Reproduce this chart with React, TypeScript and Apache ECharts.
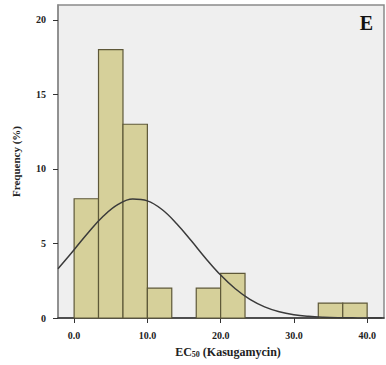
import React, { useEffect, useRef } from "react";
import * as echarts from "echarts";

// Histogram bins: [start, end] of EC50 and frequency (%)
const binStarts = [0, 3.33, 6.67, 10, 13.33, 16.67, 20, 23.33, 26.67, 30, 33.33, 36.67];
const binEnds = [3.33, 6.67, 10, 13.33, 16.67, 20, 23.33, 26.67, 30, 33.33, 36.67, 40];
const binFreq = [8, 18, 13, 2, 0, 2, 3, 0, 0, 0, 1, 1];

// Fitted normal curve
const curveX = [-2.2, 0, 2, 4, 6, 8, 10, 12, 14, 16, 18, 20, 22, 24, 26, 28, 30, 32, 34, 36, 38, 40, 42];
const curveY = [3.3, 4.58, 5.77, 6.84, 7.62, 7.98, 7.86, 7.28, 6.33, 5.18, 3.98, 2.88, 1.96, 1.25, 0.75, 0.42, 0.22, 0.11, 0.05, 0.02, 0.01, 0.0, 0.0];

const xTicks = [0, 10, 20, 30, 40];
const yTicks = [0, 5, 10, 15, 20];

const FONT = "'Liberation Serif', 'DejaVu Serif', serif";

export default function App() {
  const ref = useRef<HTMLDivElement>(null);
  useEffect(() => {
    if (!ref.current) return;
    const chart = echarts.init(ref.current, undefined, { renderer: "svg" });
    const histData = binStarts.map((s, i) => [s, binEnds[i], binFreq[i]]);
    chart.setOption({
      animation: false,
      backgroundColor: "#ffffff",
      grid: {
        left: 58,
        right: 2,
        top: 5,
        bottom: 47,
        show: true,
        backgroundColor: "#efefef",
        borderColor: "#8a8a8a",
        borderWidth: 1.5,
      },
      xAxis: {
        type: "value",
        min: -2.2,
        max: 42.3,
        splitLine: { show: false },
        axisLine: { show: true, onZero: false, lineStyle: { color: "#333", width: 1.5 } },
        axisTick: { show: true, customValues: xTicks, length: 5, lineStyle: { color: "#333" } },
        axisLabel: {
          customValues: xTicks,
          formatter: (v: number) => v.toFixed(1),
          margin: 12,
          fontFamily: FONT,
          fontWeight: "bold",
          fontSize: 10,
          color: "#222",
        },
        name: "{a|EC}{b|50}{a| (Kasugamycin)}",
        nameLocation: "middle",
        nameGap: 27,
        nameTextStyle: {
          padding: [0, 0, 0, 14],
          rich: {
            a: { fontFamily: FONT, fontWeight: "bold", fontSize: 12, color: "#222" },
            b: { fontFamily: FONT, fontWeight: "bold", fontSize: 8, color: "#222", verticalAlign: "bottom", padding: [5, 0, 0, 0] },
          },
        },
      },
      yAxis: {
        type: "value",
        min: 0,
        max: 21,
        splitLine: { show: false },
        axisLine: { show: true, onZero: false, lineStyle: { color: "#8a8a8a", width: 1.5 } },
        axisTick: { show: true, customValues: yTicks, length: 5, lineStyle: { color: "#333" } },
        axisLabel: {
          customValues: yTicks,
          margin: 12,
          fontFamily: FONT,
          fontWeight: "bold",
          fontSize: 10,
          color: "#222",
        },
        name: "Frequency (%)",
        nameLocation: "middle",
        nameGap: 37,
        nameTextStyle: { fontFamily: FONT, fontWeight: "bold", fontSize: 11, color: "#222" },
      },
      graphic: [
        {
          type: "text",
          right: 13,
          top: 13,
          style: { text: "E", font: `bold 20px ${FONT}`, fill: "#111" },
        },
      ],
      series: [
        {
          type: "custom",
          data: histData,
          encode: { x: [0, 1], y: 2 },
          renderItem: (params: any, api: any) => {
            const v = api.value(2);
            if (!v) return null;
            const p0 = api.coord([api.value(0), 0]);
            const p1 = api.coord([api.value(1), v]);
            return {
              type: "rect",
              shape: { x: p0[0], y: p1[1], width: p1[0] - p0[0], height: p0[1] - p1[1] },
              style: { fill: "#d6d09a", stroke: "#5e5838", lineWidth: 1.2 },
            };
          },
          z: 2,
        },
        {
          type: "line",
          data: curveX.map((x, i) => [x, curveY[i]]),
          smooth: 0.4,
          showSymbol: false,
          lineStyle: { color: "#3a3a3a", width: 1.5 },
          z: 3,
        },
      ],
    });
    return () => chart.dispose();
  }, []);
  return (
    <div
      ref={ref}
      style={{ position: "fixed", left: 0, top: 0, width: 386, height: 365 }}
    />
  );
}
